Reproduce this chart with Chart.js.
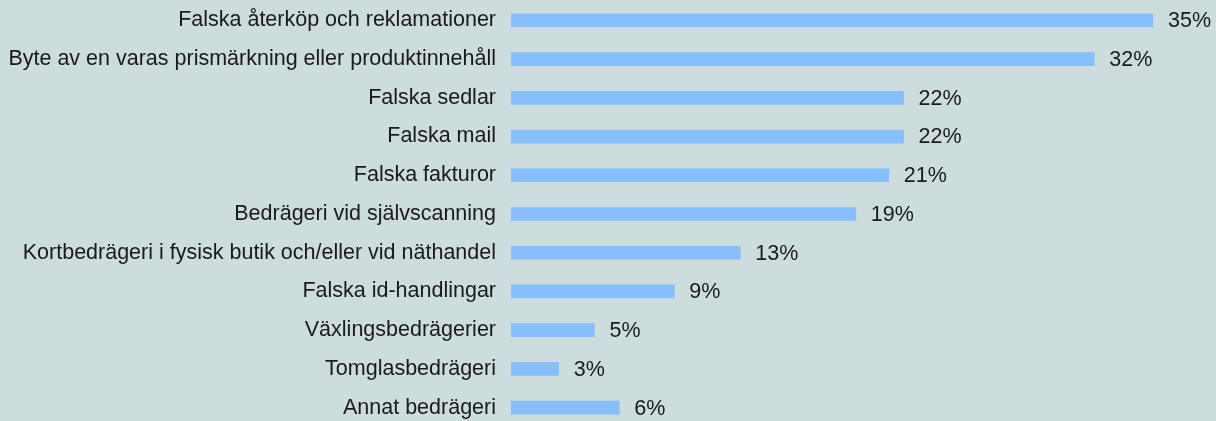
<!DOCTYPE html>
<html>
<head>
<meta charset="utf-8">
<script src="https://cdn.jsdelivr.net/npm/chart.js@4"></script>
<style>
  html, body { margin: 0; padding: 0; background: #cddcdc; overflow: hidden; }
  #wrap { width: 1216px; height: 427px; position: relative; }
</style>
</head>
<body>
<div id="wrap"><canvas id="chart"></canvas></div>
<script>
// Bedrägerityper, andel (%)
const categories = [
  'Falska återköp och reklamationer',
  'Byte av en varas prismärkning eller produktinnehåll',
  'Falska sedlar',
  'Falska mail',
  'Falska fakturor',
  'Bedrägeri vid självscanning',
  'Kortbedrägeri i fysisk butik och/eller vid näthandel',
  'Falska id-handlingar',
  'Växlingsbedrägerier',
  'Tomglasbedrägeri',
  'Annat bedrägeri'
];

const values = [35, 31.8, 21.4, 21.4, 20.6, 18.8, 12.5, 8.9, 4.55, 2.6, 5.9];

const valueLabels = ['35%', '32%', '22%', '22%', '21%', '19%', '13%', '9%', '5%', '3%', '6%'];

const FONT = 'Liberation Sans, Arial, sans-serif';

// value labels to the right of each bar
const barLabels = {
  id: 'barLabels',
  afterDatasetsDraw(chart) {
    const ctx = chart.ctx;
    const meta = chart.getDatasetMeta(0);
    ctx.save();
    ctx.font = '21.5px ' + FONT;
    ctx.fillStyle = '#1a1a1a';
    ctx.textAlign = 'left';
    ctx.textBaseline = 'middle';
    meta.data.forEach((bar, i) => {
      ctx.fillText(valueLabels[i], bar.x + 15, bar.y + 1);
    });
    ctx.restore();
  }
};

new Chart(document.getElementById('chart'), {
  type: 'bar',
  data: {
    labels: categories,
    datasets: [{
      data: values,
      backgroundColor: '#86bffc',
      borderWidth: 0,
      barThickness: 13
    }]
  },
  plugins: [barLabels],
  options: {
    indexAxis: 'y',
    responsive: true,
    maintainAspectRatio: false,
    animation: false,
    layout: { padding: { top: 1, right: 8, left: 0, bottom: 0 } },
    plugins: {
      legend: { display: false },
      tooltip: { enabled: false }
    },
    scales: {
      x: {
        min: 0,
        max: 38,
        display: false
      },
      y: {
        grid: { display: false, drawTicks: false },
        border: { display: true, color: '#d6d6d6', width: 1 },
        ticks: {
          color: '#1a1a1a',
          padding: 15,
          font: { family: FONT, size: 21.5 }
        },
        afterFit(scale) {
          scale.width = 511;
          scale.paddingTop = 0;
          scale.paddingBottom = 0;
        }
      }
    }
  }
});
</script>
</body>
</html>
